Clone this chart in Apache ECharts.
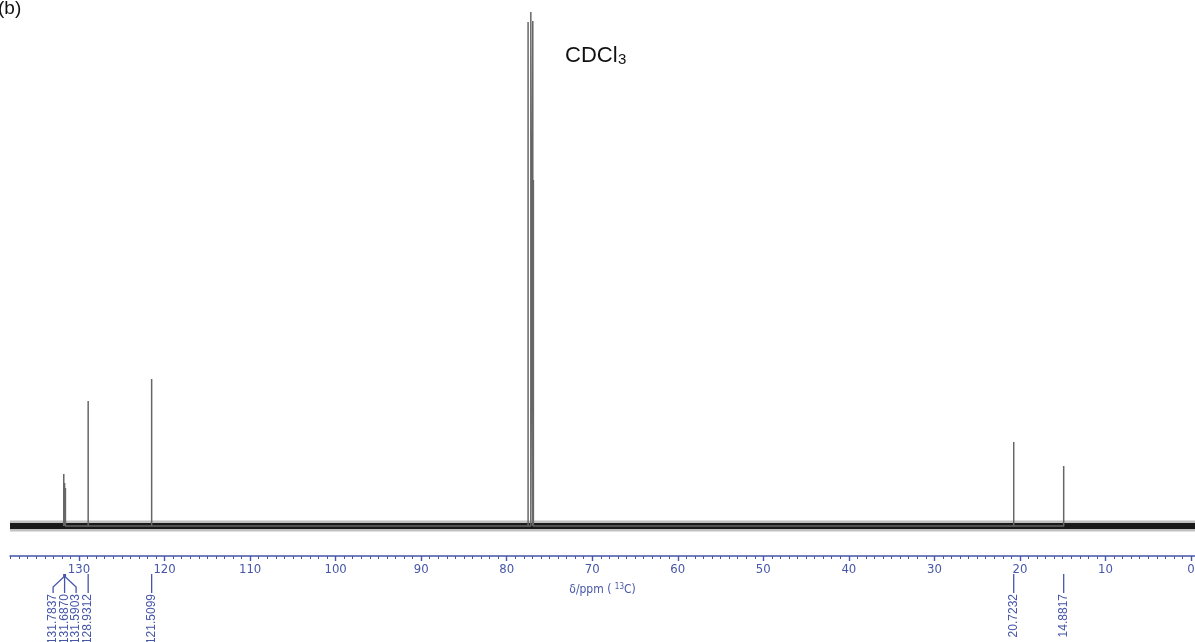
<!DOCTYPE html>
<html>
<head>
<meta charset="utf-8">
<script src="https://cdn.jsdelivr.net/npm/echarts@6/dist/echarts.min.js"></script>
<style>
html,body{margin:0;padding:0;background:#fff;}
#c{width:1195px;height:642px;}
</style>
</head>
<body>
<div id="c"></div>
<script>
// ---- data ----
const xMin = -0.47, xMax = 138.07;          // visible chemical-shift range (ppm)
const majorTicks = [0,10,20,30,40,50,60,70,80,90,100,110,120,130];
const peakPpm    = [131.7837, 131.6870, 131.5903, 128.9312, 121.5099, 20.7232, 14.8817];
const peakHeight = [52, 43, 38, 125, 147, 84, 60];
const peakLabels = ['131.7837','131.6870','131.5903','128.9312','121.5099','20.7232','14.8817'];
const solventPpm    = [77.50, 77.18, 76.95, 76.88];
const solventHeight = [504, 514, 505, 346];

const axisBlue = '#4656a8';
const minorTicks = [];
for (let v = 0; v <= 138; v++) minorTicks.push(v);

// build stick spectrum
function sticks(ppms, hs) {
  const out = [];
  ppms.forEach((p, i) => { out.push([p, 0], [p, hs[i]], [p, 0]); });
  return out;
}
const allPpm = peakPpm.concat(solventPpm);
const allH = peakHeight.concat(solventHeight);
const order = allPpm.map((p, i) => i).sort((a, b) => allPpm[b] - allPpm[a]);
const spec = sticks(order.map(i => allPpm[i]), order.map(i => allH[i]));

const chart = echarts.init(document.getElementById('c'));
const yMin = -30, yMax = 526;

function renderLabel(params, api) {
  const i = params.dataIndex;
  const xs = peakPpm.map(p => api.coord([p, 0])[0]);
  const ay = api.coord([xMin, yMin])[1];
  const gap = 11.5;
  const idx = xs.map((x, k) => k).sort((a, b) => xs[a] - xs[b]);
  const pos = new Array(xs.length);
  let g = [idx[0]];
  const flush = () => {
    const mean = g.reduce((s, k) => s + xs[k], 0) / g.length;
    g.forEach((k, j) => { pos[k] = mean + (j - (g.length - 1) / 2) * gap; });
  };
  for (let j = 1; j < idx.length; j++) {
    if (xs[idx[j]] - xs[idx[j - 1]] < gap) g.push(idx[j]);
    else { flush(); g = [idx[j]]; }
  }
  flush();
  const xp = xs[i], xl = pos[i];
  return {
    type: 'group',
    children: [
      { type: 'polyline',
        shape: { points: [[xp, ay + 18], [xp, ay + 21], [xl, ay + 31], [xl, ay + 37]] },
        style: { stroke: axisBlue, lineWidth: 1.3, fill: null } },
      { type: 'text', x: xl, y: ay + 38, rotation: Math.PI / 2,
        style: { text: peakLabels[i], fill: axisBlue,
                 font: '12px "Liberation Sans", Arial, sans-serif',
                 align: 'right', verticalAlign: 'middle' } }
    ]
  };
}

const narrow = '"Liberation Sans Narrow","DejaVu Sans Condensed","Liberation Sans",sans-serif';

chart.setOption({
  animation: false,
  backgroundColor: '#fff',
  grid: { left: 10, right: 0, top: 0, bottom: 86, containLabel: false, outerBoundsMode: 'none' },
  xAxis: [{
    type: 'value', inverse: true, min: xMin, max: xMax,
    position: 'bottom',
    axisLine: { show: true, onZero: false, lineStyle: { color: axisBlue, width: 1.5 } },
    axisTick: { show: true, customValues: majorTicks, length: 5, lineStyle: { color: axisBlue, width: 1.4 } },
    axisLabel: { show: true, customValues: majorTicks, color: axisBlue, fontSize: 13, margin: 7,
                 fontFamily: narrow, hideOverlap: false },
    splitLine: { show: false },
    name: 'δ/ppm ( {s|13}C)', nameLocation: 'middle', nameGap: 27,
    nameTextStyle: { color: axisBlue, fontSize: 12, fontFamily: narrow,
                     rich: { s: { fontSize: 8, color: axisBlue, fontFamily: narrow, padding: [0, 0, 6, 0] } } }
  }, {
    type: 'value', inverse: true, min: xMin, max: xMax,
    position: 'bottom',
    axisLine: { show: false, onZero: false },
    axisTick: { show: true, customValues: minorTicks, length: 3, lineStyle: { color: axisBlue, width: 1 } },
    axisLabel: { show: false },
    splitLine: { show: false }
  }],
  yAxis: { type: 'value', min: yMin, max: yMax, show: false, splitLine: { show: false } },
  graphic: [
    { type: 'text', left: -2, top: -1, style: { text: '(b)', fill: '#111', font: '19px "Liberation Sans", Arial, sans-serif' } },
    { type: 'text', x: 565, y: 67, style: { text: 'CDCl', fill: '#111', font: '22px "Liberation Sans", Arial, sans-serif', verticalAlign: 'bottom' } },
    { type: 'text', x: 618, y: 67, style: { text: '3', fill: '#111', font: '15px "Liberation Sans", Arial, sans-serif', verticalAlign: 'bottom' } }
  ],
  series: [
    { type: 'line', silent: true, symbol: 'none', z: 1,
      data: [[xMax, 0], [xMin, 0]],
      lineStyle: { color: '#333', width: 11, opacity: 0.3 } },
    { type: 'line', silent: true, symbol: 'none', z: 2,
      data: [[xMax, 0], [xMin, 0]],
      lineStyle: { color: '#1a1a1a', width: 6 } },
    { type: 'line', silent: true, symbol: 'none', z: 3,
      data: spec,
      lineStyle: { color: '#666666', width: 1.5 } },
    { type: 'custom', clip: false, silent: true, z: 5,
      data: peakPpm.map(p => [p, 0]),
      renderItem: renderLabel }
  ]
});
</script>
</body>
</html>
